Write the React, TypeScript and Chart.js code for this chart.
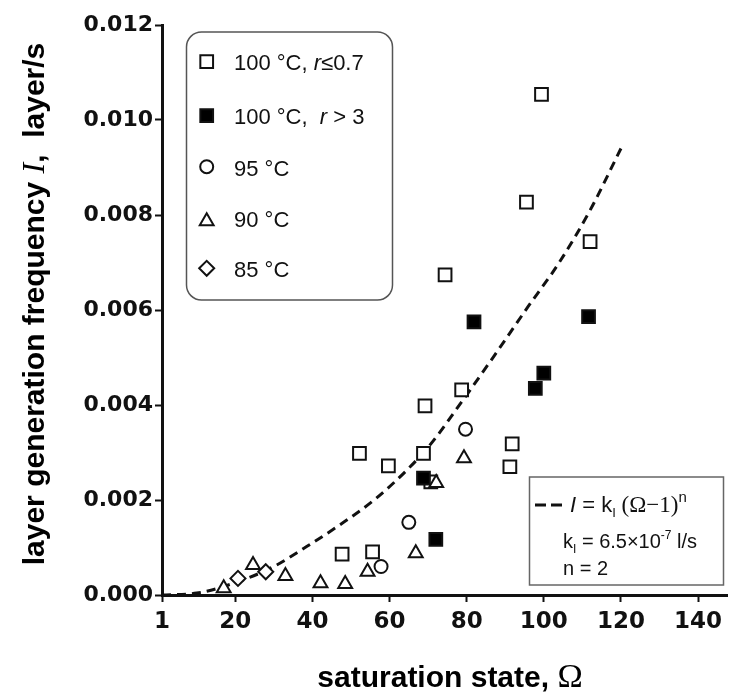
import React, { useEffect, useRef } from "react";
import { Chart, registerables } from "chart.js";
import { drawPoint } from "chart.js/helpers";

Chart.register(...registerables);

const X_TICKS = [1, 20, 40, 60, 80, 100, 120, 140];
const Y_TICKS = [0, 0.002, 0.004, 0.006, 0.008, 0.01, 0.012];

const OPEN_SQ_X = [47.7, 55.6, 52.2, 59.7, 68.8, 69.2, 70.7, 74.4, 78.7, 91.2, 91.8, 95.5, 99.4, 112.0];
const OPEN_SQ_Y = [0.00086, 0.00091, 0.00298, 0.00272, 0.00298, 0.00398, 0.00238, 0.00674, 0.00432, 0.0027, 0.00318, 0.00827, 0.01054, 0.00744];

const FILLED_SQ_X = [68.8, 72.0, 81.9, 97.8, 100.0, 111.6];
const FILLED_SQ_Y = [0.00246, 0.00117, 0.00575, 0.00435, 0.00467, 0.00586];

const CIRCLE_X = [57.8, 65.0, 79.7];
const CIRCLE_Y = [0.0006, 0.00153, 0.00349];

const TRIANGLE_X = [17.0, 24.6, 33.0, 42.1, 48.5, 54.3, 66.8, 72.1, 79.3];
const TRIANGLE_Y = [0.00014, 0.00063, 0.0004, 0.00025, 0.00023, 0.00049, 0.00088, 0.00236, 0.00288];

const DIAMOND_X = [20.7, 27.9];
const DIAMOND_Y = [0.00035, 0.00049];

// fitted curve
const FIT_X = [1, 10, 20, 30, 38.5, 47, 56, 64.5, 70.5, 79, 87, 96, 104, 112, 120];
const FIT_Y = [0, 0.00004, 0.00026, 0.0006, 0.00102, 0.00147, 0.002, 0.00263, 0.00316, 0.0041, 0.00502, 0.00608, 0.007, 0.0081, 0.0094];

const LEGEND_LABELS = ["100 °C, ", "100 °C,  ", "95 °C", "90 °C", "85 °C"];

const SANS = "'Liberation Sans', Arial, sans-serif";
const SERIF = "'Liberation Serif', 'Times New Roman', serif";
const TICK_FONT = "'DejaVu Sans', sans-serif";

const pts = (xs: number[], ys: number[]) => xs.map((x, i) => ({ x, y: ys[i] }));

type Run = { t: string; f: string; dy?: number };

function drawRuns(ctx: CanvasRenderingContext2D, runs: Run[], x: number, y: number, align: "left" | "center") {
  let w = 0;
  runs.forEach((r) => {
    ctx.font = r.f;
    w += ctx.measureText(r.t).width;
  });
  let cx = align === "center" ? x - w / 2 : x;
  ctx.textAlign = "left";
  ctx.textBaseline = "alphabetic";
  runs.forEach((r) => {
    ctx.font = r.f;
    ctx.fillText(r.t, cx, y + (r.dy || 0));
    cx += ctx.measureText(r.t).width;
  });
}

function roundRect(ctx: CanvasRenderingContext2D, x: number, y: number, w: number, h: number, r: number) {
  ctx.beginPath();
  ctx.moveTo(x + r, y);
  ctx.lineTo(x + w - r, y);
  ctx.arcTo(x + w, y, x + w, y + r, r);
  ctx.lineTo(x + w, y + h - r);
  ctx.arcTo(x + w, y + h, x + w - r, y + h, r);
  ctx.lineTo(x + r, y + h);
  ctx.arcTo(x, y + h, x, y + h - r, r);
  ctx.lineTo(x, y + r);
  ctx.arcTo(x, y, x + r, y, r);
  ctx.closePath();
}

const decorPlugin = {
  id: "decor",
  afterDraw(chart: any) {
    const ctx: CanvasRenderingContext2D = chart.ctx;
    ctx.save();
    ctx.fillStyle = "#000";

    // y title
    ctx.save();
    ctx.translate(44, 304);
    ctx.rotate(-Math.PI / 2);
    drawRuns(
      ctx,
      [
        { t: "layer generation frequency ", f: `bold 30px ${SANS}` },
        { t: "I", f: `italic 32px ${SERIF}` },
        { t: ",  layer/s", f: `bold 30px ${SANS}` },
      ],
      0,
      0,
      "center"
    );
    ctx.restore();

    // x title
    drawRuns(
      ctx,
      [
        { t: "saturation state, ", f: `bold 30px ${SANS}` },
        { t: "Ω", f: `34px ${SERIF}` },
      ],
      450,
      687,
      "center"
    );

    // legend box
    roundRect(ctx, 186.5, 32, 206, 268, 15);
    ctx.fillStyle = "#fff";
    ctx.fill();
    ctx.lineWidth = 1.5;
    ctx.strokeStyle = "#555";
    ctx.stroke();

    const styles = ["rect", "rect", "circle", "triangle", "rectRot"];
    const radii = [9, 9, 6.5, 8, 7.5];
    const filled = [false, true, false, false, false];
    const rowsY = [61.7, 115.7, 166.7, 219.3, 268.3];
    const baseY = [70, 124, 176, 227, 277];
    for (let i = 0; i < 5; i++) {
      ctx.fillStyle = filled[i] ? "#000" : "#fff";
      ctx.strokeStyle = "#111";
      ctx.lineWidth = 2;
      drawPoint(ctx, { pointStyle: styles[i], radius: radii[i], rotation: 0, borderWidth: 2 } as any, 206.7, rowsY[i] + (styles[i] === "triangle" ? 2 : 0));
      ctx.fillStyle = "#111";
      const runs: Run[] = [{ t: LEGEND_LABELS[i], f: `22px ${SANS}` }];
      if (i === 0) {
        runs.push({ t: "r", f: `italic 22px ${SANS}` });
        runs.push({ t: "≤0.7", f: `22px ${SANS}` });
      } else if (i === 1) {
        runs.push({ t: "r", f: `italic 22px ${SANS}` });
        runs.push({ t: " > 3", f: `22px ${SANS}` });
      }
      drawRuns(ctx, runs, 234, baseY[i], "left");
    }

    // equation box
    ctx.fillStyle = "#fff";
    ctx.fillRect(529.5, 477, 194, 108);
    ctx.strokeStyle = "#666";
    ctx.lineWidth = 1.5;
    ctx.strokeRect(529.5, 477, 194, 108);

    ctx.strokeStyle = "#111";
    ctx.lineWidth = 3;
    ctx.setLineDash([11, 5]);
    ctx.beginPath();
    ctx.moveTo(535, 505);
    ctx.lineTo(562, 505);
    ctx.stroke();
    ctx.setLineDash([]);

    ctx.fillStyle = "#111";
    drawRuns(
      ctx,
      [
        { t: "I", f: `italic 22px ${SANS}` },
        { t: " = k", f: `22px ${SANS}` },
        { t: "I", f: `13px ${SANS}`, dy: 5 },
        { t: " (Ω−1)", f: `23px ${SERIF}` },
        { t: "n", f: `15px ${SANS}`, dy: -10 },
      ],
      570,
      512,
      "left"
    );
    drawRuns(
      ctx,
      [
        { t: "k", f: `20px ${SANS}` },
        { t: "I", f: `12px ${SANS}`, dy: 5 },
        { t: " = 6.5×10", f: `20px ${SANS}` },
        { t: "-7", f: `12px ${SANS}`, dy: -9 },
        { t: " l/s", f: `20px ${SANS}` },
      ],
      563,
      548,
      "left"
    );
    drawRuns(ctx, [{ t: "n = 2", f: `20px ${SANS}` }], 563, 575, "left");

    ctx.restore();
  },
};

export default function App() {
  const ref = useRef<HTMLCanvasElement | null>(null);
  useEffect(() => {
    if (!ref.current) return;
    const markerCommon = { borderColor: "#111", borderWidth: 2, showLine: false };
    const chart = new Chart(ref.current, {
      type: "scatter",
      data: {
        datasets: [
          { label: "100 °C, r≤0.7", data: pts(OPEN_SQ_X, OPEN_SQ_Y), pointStyle: "rect", pointRadius: 9, backgroundColor: "#fff", order: 5, ...markerCommon },
          { label: "100 °C, r>3", data: pts(FILLED_SQ_X, FILLED_SQ_Y), pointStyle: "rect", pointRadius: 9, backgroundColor: "#000", order: 4, ...markerCommon },
          { label: "95 °C", data: pts(CIRCLE_X, CIRCLE_Y), pointStyle: "circle", pointRadius: 6.5, backgroundColor: "#fff", order: 3, ...markerCommon },
          { label: "90 °C", data: pts(TRIANGLE_X, TRIANGLE_Y), pointStyle: "triangle", pointRadius: 8, backgroundColor: "#fff", order: 2, ...markerCommon },
          { label: "85 °C", data: pts(DIAMOND_X, DIAMOND_Y), pointStyle: "rectRot", pointRadius: 7.5, backgroundColor: "#fff", order: 1, ...markerCommon },
          {
            label: "fit",
            data: pts(FIT_X, FIT_Y),
            showLine: true,
            pointRadius: 0,
            borderColor: "#111",
            borderWidth: 3,
            borderDash: [9, 6],
            cubicInterpolationMode: "monotone",
            fill: false,
            order: 6,
          } as any,
        ],
      },
      options: {
        animation: false,
        responsive: false,
        devicePixelRatio: 1,
        layout: { autoPadding: false, padding: { top: 25, right: 3, left: 0, bottom: 0 } },
        plugins: { legend: { display: false }, tooltip: { enabled: false } },
        scales: {
          x: {
            type: "linear",
            min: 1,
            max: 147.5,
            afterBuildTicks: (s: any) => {
              s.ticks = X_TICKS.map((v) => ({ value: v }));
            },
            afterFit: (s: any) => {
              s.height = 100;
            },
            ticks: {
              autoSkip: false,
              maxRotation: 0,
              padding: 6,
              color: "#111",
              font: { family: TICK_FONT, size: 23, weight: "bold" },
              callback: (v: any) => String(v),
            },
            grid: { display: true, drawOnChartArea: false, drawTicks: true, tickLength: 7, tickWidth: 2, tickColor: "#111" },
            border: { display: true, width: 3, color: "#111" },
          },
          y: {
            type: "linear",
            min: 0,
            max: 0.012,
            afterBuildTicks: (s: any) => {
              s.ticks = Y_TICKS.map((v) => ({ value: v }));
            },
            afterFit: (s: any) => {
              s.width = 162;
            },
            ticks: {
              autoSkip: false,
              padding: 2,
              color: "#111",
              font: { family: TICK_FONT, size: 22, weight: "bold" },
              callback: (v: any) => Number(v).toFixed(3),
            },
            grid: { display: true, drawOnChartArea: false, drawTicks: true, tickLength: 7, tickWidth: 2, tickColor: "#111" },
            border: { display: true, width: 3, color: "#111" },
          },
        },
      },
      plugins: [decorPlugin],
    } as any);
    return () => chart.destroy();
  }, []);
  return (
    <div style={{ position: "absolute", left: 0, top: 0, width: 730, height: 695, background: "#fff" }}>
      <canvas ref={ref} width={730} height={695} />
    </div>
  );
}
